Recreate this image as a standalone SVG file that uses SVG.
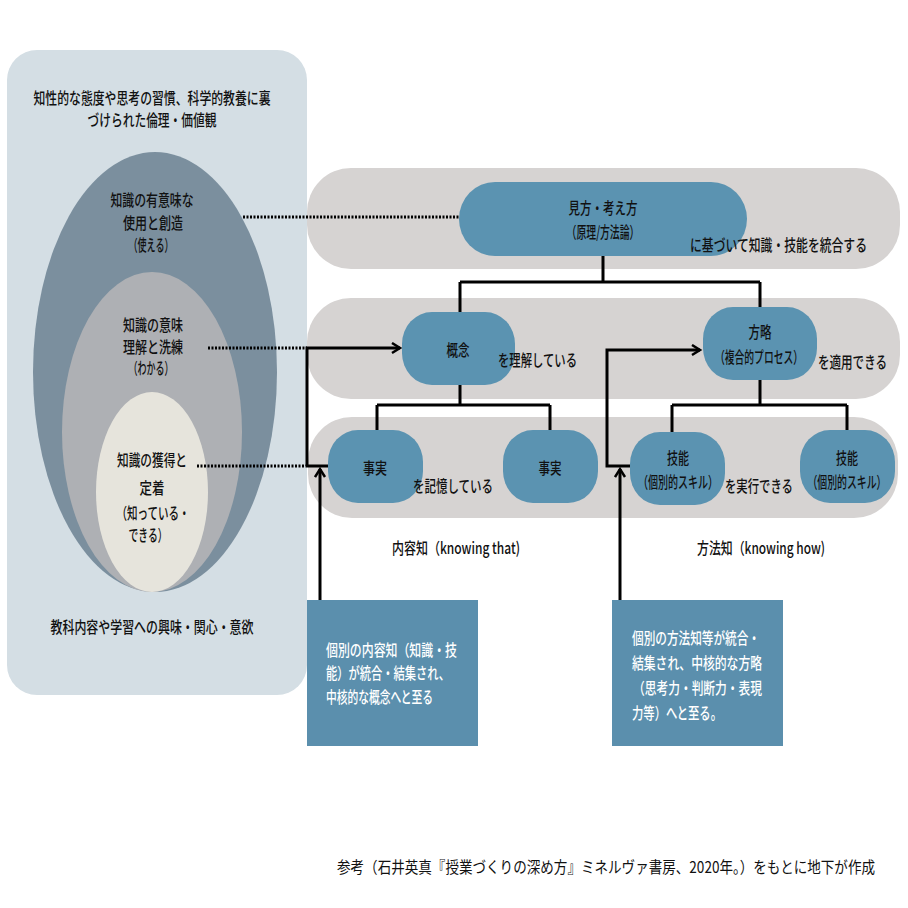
<svg xmlns="http://www.w3.org/2000/svg" width="908" height="908" viewBox="0 0 908 908">
<style>
text{font-family:"Noto Sans CJK JP","Liberation Sans",sans-serif;font-size:16px;font-weight:500;fill:#111}
.c{text-anchor:middle}
.w{fill:#fff}
.band{fill:#d6d3d2}
.node{fill:#5b93b1}
.box{fill:#5b8fad}
.ln{fill:none;stroke:#000;stroke-width:3}
.dot{fill:none;stroke:#000;stroke-width:3;stroke-dasharray:2 1.5}
.foot{font-size:16px;font-weight:400}
</style>
<defs>
<marker id="ah" markerUnits="userSpaceOnUse" markerWidth="14" markerHeight="14" refX="10" refY="6" orient="auto">
<path d="M2,1 L10,6 L2,11" fill="none" stroke="#000" stroke-width="2.5"/>
</marker>
</defs>
<rect width="908" height="908" fill="#fff"/>

<g id="panel">
<rect x="7" y="50" width="300" height="645" rx="30" fill="#d4dee4"/>
<text class="c" x="152" y="104" textLength="237" lengthAdjust="spacingAndGlyphs">知性的な態度や思考の習慣、科学的教養に裏</text>
<text class="c" x="152" y="126" textLength="129" lengthAdjust="spacingAndGlyphs">づけられた倫理・価値観</text>
<text class="c" x="152" y="633" textLength="203" lengthAdjust="spacingAndGlyphs">教科内容や学習への興味・関心・意欲</text>
</g>

<g id="outer">
<ellipse cx="155" cy="372" rx="122" ry="220" fill="#7b8f9e"/>
<text class="c" x="152" y="206" textLength="83" lengthAdjust="spacingAndGlyphs">知識の有意味な</text>
<text class="c" x="153" y="229" textLength="60" lengthAdjust="spacingAndGlyphs">使用と創造</text>
<text class="c" x="151" y="251" textLength="45" lengthAdjust="spacingAndGlyphs">（使える）</text>
</g>

<g id="middle">
<ellipse cx="152" cy="432" rx="90" ry="160" fill="#aeb0b4"/>
<text class="c" x="153" y="331" textLength="60" lengthAdjust="spacingAndGlyphs">知識の意味</text>
<text class="c" x="153" y="353" textLength="60" lengthAdjust="spacingAndGlyphs">理解と洗練</text>
<text class="c" x="151" y="374" textLength="45" lengthAdjust="spacingAndGlyphs">（わかる）</text>
</g>

<g id="inner">
<ellipse cx="152" cy="492" rx="56" ry="100" fill="#e6e4dc"/>
<text class="c" x="152" y="466" textLength="70" lengthAdjust="spacingAndGlyphs">知識の獲得と</text>
<text class="c" x="152" y="494" textLength="25" lengthAdjust="spacingAndGlyphs">定着</text>
<text class="c" x="153" y="519" textLength="73" lengthAdjust="spacingAndGlyphs">（知っている・</text>
<text class="c" x="148" y="541" textLength="39" lengthAdjust="spacingAndGlyphs">できる）</text>
</g>

<g id="bands">
<rect class="band" x="307" y="168" width="593" height="101" rx="44" ry="44"/>
<rect class="band" x="307" y="298" width="593" height="101" rx="44" ry="44"/>
<rect class="band" x="308" y="417" width="590" height="101" rx="44" ry="44"/>
</g>

<g id="connectors">
<path class="ln" d="M603,256 V282 M460,282 H760 M460,282 V312 M760,282 V307"/>
<path class="ln" d="M460,385 V405 M377,405 H550 M377,405 V430 M550,405 V430"/>
<path class="ln" d="M760,380 V405 M672,405 H847 M672,405 V432 M847,405 V430"/>
<path class="dot" d="M243,217 H478"/>
<path class="dot" d="M208,348 H307"/>
<path class="dot" d="M197,466 H307 M330,466 H344"/>
<path class="ln" d="M307,466 V348 H400" marker-end="url(#ah)"/>
<path class="ln" d="M307,466 H330"/>
<path class="ln" d="M320,600 V469" marker-end="url(#ah)"/>
<path class="ln" d="M630,466 H607 V350 H700" marker-end="url(#ah)"/>
<path class="ln" d="M620,600 V469" marker-end="url(#ah)"/>
</g>

<g id="n-mikata">
<rect class="node" x="459" y="182" width="288" height="74" rx="36" ry="37"/>
<text class="c" x="603" y="214" textLength="69" lengthAdjust="spacingAndGlyphs">見方・考え方</text>
<text class="c" x="603" y="238" textLength="73" lengthAdjust="spacingAndGlyphs">（原理/方法論）</text>
</g>
<text x="690" y="251" textLength="177" lengthAdjust="spacingAndGlyphs">に基づいて知識・技能を統合する</text>

<g id="n-gainen">
<rect class="node" x="402" y="312" width="113" height="73" rx="30" ry="32"/>
<text class="c" x="458" y="356" textLength="23" lengthAdjust="spacingAndGlyphs">概念</text>
</g>
<text x="498" y="366" textLength="79" lengthAdjust="spacingAndGlyphs">を理解している</text>

<g id="n-houryaku">
<rect class="node" x="703" y="307" width="114" height="73" rx="30" ry="32"/>
<text class="c" x="760" y="338" textLength="23" lengthAdjust="spacingAndGlyphs">方略</text>
<text class="c" x="759" y="363" textLength="88" lengthAdjust="spacingAndGlyphs">（複合的プロセス）</text>
</g>
<text x="818" y="368" textLength="69" lengthAdjust="spacingAndGlyphs">を適用できる</text>

<g id="n-jijitsu1">
<rect class="node" x="328" y="430" width="95" height="73" rx="30" ry="32"/>
<text class="c" x="375" y="474" textLength="24" lengthAdjust="spacingAndGlyphs">事実</text>
</g>
<g id="n-jijitsu2">
<rect class="node" x="503" y="430" width="95" height="73" rx="30" ry="32"/>
<text class="c" x="550" y="474" textLength="23" lengthAdjust="spacingAndGlyphs">事実</text>
</g>
<text x="413" y="492" textLength="80" lengthAdjust="spacingAndGlyphs">を記憶している</text>

<g id="n-ginou1">
<rect class="node" x="630" y="432" width="95" height="73" rx="30" ry="32"/>
<text class="c" x="678" y="464" textLength="22" lengthAdjust="spacingAndGlyphs">技能</text>
<text class="c" x="678" y="488" textLength="80" lengthAdjust="spacingAndGlyphs">（個別的スキル）</text>
</g>
<g id="n-ginou2">
<rect class="node" x="800" y="430" width="95" height="73" rx="30" ry="32"/>
<text class="c" x="847" y="464" textLength="22" lengthAdjust="spacingAndGlyphs">技能</text>
<text class="c" x="847" y="488" textLength="79" lengthAdjust="spacingAndGlyphs">（個別的スキル）</text>
</g>
<text x="725" y="492" textLength="68" lengthAdjust="spacingAndGlyphs">を実行できる</text>

<text class="c" x="456" y="554" textLength="128" lengthAdjust="spacingAndGlyphs">内容知（knowing that)</text>
<text class="c" x="761" y="554" textLength="128" lengthAdjust="spacingAndGlyphs">方法知（knowing how)</text>

<g id="box1">
<rect class="box" x="307" y="600" width="171" height="146"/>
<text class="w" x="326" y="656" textLength="131" lengthAdjust="spacingAndGlyphs">個別の内容知（知識・技</text>
<text class="w" x="326" y="679" textLength="124" lengthAdjust="spacingAndGlyphs">能）が統合・結集され、</text>
<text class="w" x="326" y="703" textLength="107" lengthAdjust="spacingAndGlyphs">中核的な概念へと至る</text>
</g>

<g id="box2">
<rect class="box" x="612" y="600" width="171" height="146"/>
<text class="w" x="632" y="644" textLength="128" lengthAdjust="spacingAndGlyphs">個別の方法知等が統合・</text>
<text class="w" x="632" y="669" textLength="130" lengthAdjust="spacingAndGlyphs">結集され、中核的な方略</text>
<text class="w" x="633" y="694" textLength="129" lengthAdjust="spacingAndGlyphs">（思考力・判断力・表現</text>
<text class="w" x="632" y="719" textLength="90" lengthAdjust="spacingAndGlyphs">力等）へと至る。</text>
</g>

<text class="foot" x="337" y="873" textLength="538" lengthAdjust="spacingAndGlyphs">参考（石井英真『授業づくりの深め方』ミネルヴァ書房、2020年。）をもとに地下が作成</text>
</svg>
